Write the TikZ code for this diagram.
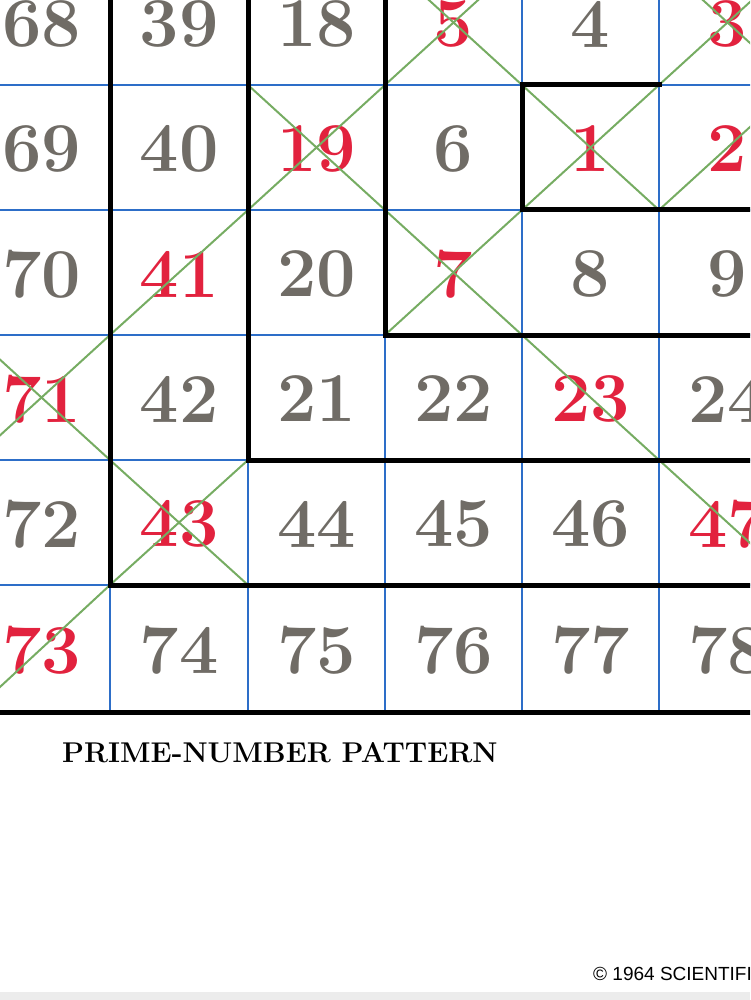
\documentclass[tikz,border=0pt]{standalone}
\usepackage{fontspec}
\usepackage{xcolor}
\usepackage{tikz}
\usetikzlibrary{positioning, calc}
\setsansfont{Liberation Sans}
\definecolor{numgray}{RGB}{112,108,102}
\definecolor{primered}{RGB}{226,34,62}
\definecolor{gridblue}{RGB}{45,110,200}
\definecolor{diaggreen}{RGB}{118,172,98}
\tikzstyle{num} = [inner sep=0pt, text=numgray, font=\fontsize{70}{70}\selectfont\bfseries]
\tikzstyle{prime} = [num, text=primered]
\tikzstyle{gridline} = [gridblue, line width=2pt]
\tikzstyle{spiral} = [black, line width=5pt, line join=miter, line cap=rect]
\tikzstyle{diag} = [diaggreen, line width=2pt]

\begin{document}
\begin{tikzpicture}[x=1pt, y=-1pt]
    \useasboundingbox (0,0) rectangle (750,1000);
    \clip (0,0) rectangle (750,1000);
    % cell corners and cell centres
    \foreach \x [count=\i from 0] in {-27,110,248,385,522,659,796}
        \foreach \y [count=\j from 0] in {-40,85,210,335,460,585,712}
            \coordinate (c-\i-\j) at (\x,\y);
    \foreach \x [count=\i from 0] in {41.5,179,316.5,453.5,590.5,727.5}
        \foreach \y [count=\j from 0] in {24,149,274,399,524,650}
            \coordinate (m-\i-\j) at (\x,\y);

    \fill[gray!15] (0,992) rectangle (750,1000);

    % thin grid
    \foreach \k in {1,...,5} {
        \draw[gridline] (c-0-\k) -- (c-6-\k);
        \draw[gridline] (c-\k-0) -- (c-\k-6);
    }

    % numbers
    \foreach \n/\i/\j in {68/0/0, 39/1/0, 18/2/0, 4/4/0, 69/0/1, 40/1/1, 6/3/1, 70/0/2, 20/2/2, 8/4/2, 9/5/2, 42/1/3, 21/2/3, 22/3/3, 24/5/3, 72/0/4, 44/2/4, 45/3/4, 46/4/4, 74/1/5, 75/2/5, 76/3/5, 77/4/5, 78/5/5}
        \node[num] (n\n) at (m-\i-\j) {\n};
    \foreach \n/\i/\j in {5/3/0, 3/5/0, 19/2/1, 1/4/1, 2/5/1, 41/1/2, 7/3/2, 71/0/3, 23/4/3, 43/1/4, 47/5/4, 73/0/5}
        \node[prime] (n\n) at (m-\i-\j) {\n};

    % diagonals through the primes
    \draw[diag] (c-0-6) -- (c-1-5) -- (c-2-4);
    \draw[diag] (c-0-4) -- (c-1-3) -- (c-2-2) -- (c-3-1) -- (c-4-0);
    \draw[diag] (c-3-0) -- (c-4-1) -- (c-5-2);
    \draw[diag] (c-3-3) -- (c-4-2) -- (c-5-1) -- (c-6-0);
    \draw[diag] (c-5-2) -- (c-6-1);
    \draw[diag] (c-5-0) -- (c-6-1);
    \draw[diag] (c-2-1) -- (c-3-2) -- (c-4-3) -- (c-5-4) -- (c-6-5);
    \draw[diag] (c-0-3) -- (c-1-4) -- (c-2-5);

    % spiral
    \draw[spiral] (c-6-2) -- (c-4-2) -- (c-4-1) -- (c-5-1);
    \draw[spiral] (c-3-0) -- (c-3-3) -- (c-6-3);
    \draw[spiral] (c-2-0) -- (c-2-4) -- (c-6-4);
    \draw[spiral] (c-1-0) -- (c-1-5) -- (c-6-5);
    \draw[spiral] (c-0-6) -- (c-6-6);

    \node[anchor=base west, inner sep=0pt, font=\fontsize{28.6}{30}\selectfont\bfseries] (title) at (62,762) {PRIME-NUMBER PATTERN};
    \node[anchor=base west, inner sep=0pt, font=\sffamily\fontsize{19}{19}\selectfont] (credit) at (593,980) {© 1964 SCIENTIFIC AMERICAN};
\end{tikzpicture}
\end{document}
